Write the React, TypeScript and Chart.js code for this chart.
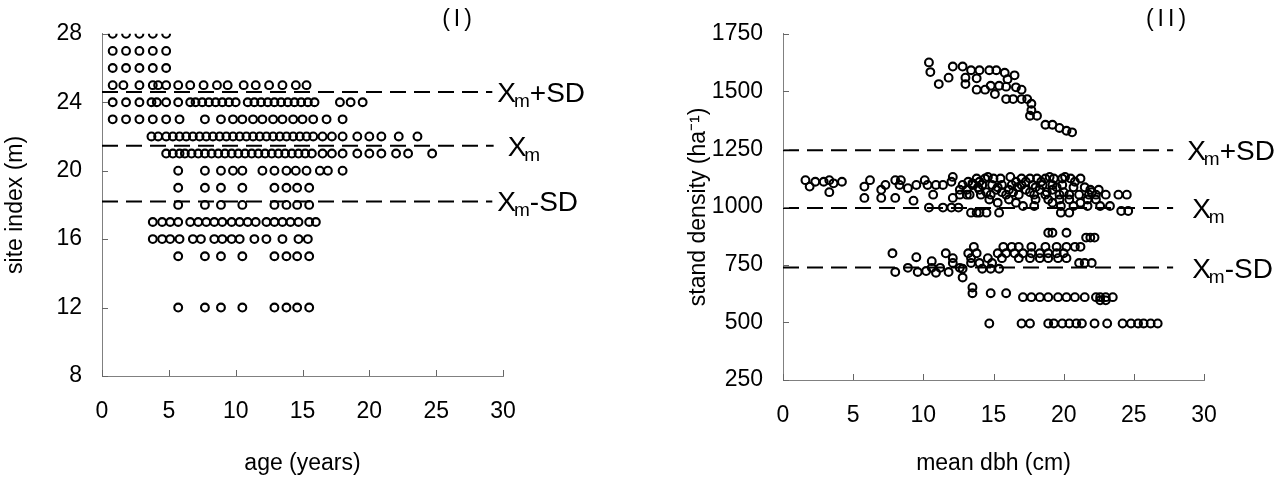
import React, { useEffect, useRef } from "react";
import { Chart, registerables } from "chart.js";

Chart.register(...registerables);

const FONT = "'Liberation Sans', Arial, sans-serif";

// ---------- Panel (I): site index vs age ----------
const siteIndexRows = [28, 27, 26, 25, 24, 23, 22, 21, 20, 19, 18, 17, 16, 15, 12];
const agesSI28 = [0.8, 1.8, 2.8, 3.8, 4.8];
const agesSI27 = [0.8, 1.8, 2.8, 3.8, 4.8];
const agesSI26 = [0.8, 1.8, 2.8, 3.8, 4.8];
const agesSI25 = [0.8, 1.6, 2.8, 3.8, 4.2, 4.8, 5.7, 6.6, 7.6, 8.6, 9.4, 10.6, 11.5, 12.5, 13.5, 14.5, 15.3];
const agesSI24 = [0.8, 1.8, 2.8, 3.7, 4.1, 4.8, 5.7, 6.6, 7.0, 7.5, 8.0, 8.5, 9.0, 9.5, 10.0, 10.9, 11.4, 11.9, 12.4, 12.9, 13.4, 13.9, 14.4, 14.9, 15.4, 15.9, 17.8, 18.6, 19.5];
const agesSI23 = [0.8, 1.8, 2.8, 3.8, 4.8, 5.8, 7.7, 8.9, 9.8, 10.5, 11.3, 12.0, 12.8, 13.5, 14.3, 15.0, 15.8, 16.8, 18.0];
const agesSI22 = [3.7, 4.2, 4.8, 5.3, 5.8, 6.3, 6.8, 7.3, 7.8, 8.3, 8.8, 9.3, 9.8, 10.3, 10.8, 11.3, 11.8, 12.3, 12.8, 13.3, 13.8, 14.3, 14.8, 15.3, 15.8, 16.5, 17.2, 18.0, 19.1, 20.0, 20.9, 22.2, 23.6];
const agesSI21 = [4.8, 5.3, 5.8, 6.2, 6.7, 7.2, 7.7, 8.2, 8.7, 9.2, 9.7, 10.2, 10.7, 11.2, 11.7, 12.2, 12.7, 13.2, 13.7, 14.2, 14.7, 15.2, 15.7, 16.5, 17.2, 18.0, 19.1, 20.0, 20.9, 22.0, 22.9, 24.7];
const agesSI20 = [5.7, 7.7, 8.9, 9.8, 10.5, 12.0, 12.9, 13.8, 14.5, 15.3, 16.3, 16.9, 18.0];
const agesSI19 = [5.7, 7.7, 8.9, 10.5, 12.9, 13.8, 14.6, 15.5];
const agesSI18 = [5.7, 7.7, 8.9, 10.5, 12.9, 13.8, 14.6, 15.5];
const agesSI17 = [3.8, 4.5, 5.1, 5.7, 6.6, 7.2, 7.8, 8.4, 9.0, 9.7, 10.3, 10.9, 11.5, 12.3, 12.9, 13.5, 14.1, 14.7, 15.5, 16.0];
const agesSI16 = [3.8, 4.5, 5.1, 5.8, 6.8, 7.4, 8.4, 9.0, 9.7, 10.3, 11.4, 12.3, 13.5, 14.7, 15.4];
const agesSI15 = [5.7, 7.7, 8.9, 10.5, 12.9, 13.8, 14.6, 15.5];
const agesSI12 = [5.7, 7.7, 8.9, 10.5, 12.9, 13.8, 14.6, 15.5];
const agesByRow = [agesSI28, agesSI27, agesSI26, agesSI25, agesSI24, agesSI23, agesSI22, agesSI21, agesSI20, agesSI19, agesSI18, agesSI17, agesSI16, agesSI15, agesSI12];

const siteRefValues = [24.6, 21.45, 18.2];
const siteRefEnds = [29.2, 29.3, 29.2];
const refSuffixes = ["+SD", "", "-SD"];
const siteTicks = [8, 12, 16, 20, 24, 28];
const ageTicks = [0, 5, 10, 15, 20, 25, 30];

// ---------- Panel (II): stand density vs mean dbh ----------
const highDensityPts: [number, number][] = [
  [10.4, 1626], [10.5, 1584], [11.1, 1532], [11.8, 1560], [12.1, 1608], [12.8, 1608], [13.0, 1560], [13.0, 1532],
  [13.4, 1592], [14.0, 1592], [13.8, 1557], [13.8, 1508], [14.4, 1508], [14.7, 1592], [15.2, 1592], [14.8, 1525],
  [15.1, 1489], [15.4, 1525], [15.8, 1581], [16.0, 1553], [15.9, 1521], [16.5, 1570], [16.6, 1518], [17.0, 1508],
  [15.9, 1467], [16.4, 1467], [17.0, 1467], [17.4, 1467], [17.7, 1447], [17.7, 1419], [17.6, 1395], [18.1, 1395],
  [18.7, 1356], [19.2, 1356], [19.7, 1342], [20.2, 1330], [20.6, 1323],
];
const midDensityLeftPts: [number, number][] = [
  [1.6, 1116], [1.9, 1088], [2.3, 1109], [2.9, 1109], [3.3, 1116], [3.3, 1064], [3.6, 1102], [4.2, 1109],
  [5.8, 1088], [6.2, 1116], [5.8, 1039], [7.0, 1074], [7.0, 1039], [7.3, 1095], [8.0, 1116], [8.0, 1039],
  [8.3, 1095], [8.4, 1116], [8.9, 1081], [9.3, 1027], [9.5, 1095], [10.1, 1116], [10.3, 1095], [10.7, 1053],
  [10.9, 1095], [11.4, 1095], [12.0, 1109], [12.1, 1130], [12.1, 1039], [12.6, 1074], [13.1, 1053], [13.5, 1102],
  [10.4, 997], [11.4, 997], [12.0, 997], [12.5, 997], [13.4, 975], [13.8, 975],
];
const dbhAt1130 = [14.6, 16.2, 19.0, 20.1];
const dbhAt1123 = [13.8, 14.4, 15.0, 15.5, 17.0, 17.6, 18.1, 18.7, 19.3, 19.9, 20.5, 21.2];
const dbhAt1109 = [13.2, 14.0, 16.6, 17.3, 18.4, 20.8];
const dbhAt1095 = [12.8, 13.5, 14.2, 14.9, 15.6, 16.3, 17.0, 17.8, 18.5, 19.2, 19.9];
const dbhAt1085 = [13.9, 15.3, 16.7, 18.0, 19.5, 20.7, 21.5];
const dbhAt1074 = [13.1, 14.0, 15.2, 16.1, 17.3, 18.3, 19.2, 21.9, 22.5];
const dbhAt1064 = [14.5, 15.6, 16.4, 17.6, 18.8, 20.0, 22.0];
const dbhAt1053 = [12.6, 13.3, 14.1, 14.8, 15.9, 16.8, 17.9, 18.7, 19.7, 20.4, 21.1, 21.8, 22.3, 23.0, 23.9, 24.5];
const dbhAt1032 = [14.7, 16.1, 18.0, 18.9, 19.7, 20.4, 21.7, 22.3];
const dbhAt1018 = [15.3, 16.6, 19.2, 21.2];
const dbhAt1004 = [17.1, 17.9, 19.8, 20.7, 21.7, 22.6, 23.3];
const dbhAt982 = [24.1, 24.6];
const dbhAt975 = [14.0, 14.5, 15.4, 19.8, 20.4];
const dbhAt888 = [18.9, 19.2, 20.2];
const dbhAt867 = [21.6, 21.9, 22.2];
const lowDensityLeftPts: [number, number][] = [
  [7.8, 799], [8.0, 718], [8.9, 736], [9.5, 782], [9.6, 718], [10.2, 722], [10.6, 765], [10.6, 736],
  [11.2, 736], [11.6, 799], [12.1, 778], [12.1, 757], [12.6, 736], [12.8, 694], [13.2, 799], [13.4, 757],
  [13.6, 827], [13.5, 651], [11.8, 718], [10.9, 715],
];
const dbhAt827 = [15.7, 16.3, 16.8, 17.7, 18.7, 19.5, 20.2, 20.8, 21.2];
const dbhAt799 = [13.8, 15.3, 15.9, 16.5, 17.1, 17.7, 18.3, 18.9, 19.5, 20.0];
const dbhAt778 = [13.4, 14.6, 15.6, 16.8, 17.6, 18.3, 18.9, 19.6, 20.2];
const dbhAt757 = [14.0, 14.9, 21.1, 21.5, 22.0];
const dbhAt732 = [12.8, 14.2, 14.8, 15.4];
const dbhAt626 = [13.5, 14.8, 15.9];
const dbhAt609 = [17.1, 17.7, 18.3, 18.9, 19.6, 20.2, 20.8, 21.5, 22.3, 22.6, 23.0, 23.5];
const dbhAt595 = [22.6, 23.0];
const dbhAt495 = [14.7, 17.0, 17.6, 18.9, 19.3, 19.9, 20.4, 20.9, 21.3, 22.2, 23.1, 24.2, 24.8, 25.3, 25.7, 26.2, 26.7];
const densityRows: [number, number[]][] = [
  [1130, dbhAt1130], [1123, dbhAt1123], [1109, dbhAt1109], [1095, dbhAt1095], [1085, dbhAt1085],
  [1074, dbhAt1074], [1064, dbhAt1064], [1053, dbhAt1053], [1032, dbhAt1032], [1018, dbhAt1018],
  [1004, dbhAt1004], [982, dbhAt982], [975, dbhAt975], [888, dbhAt888], [867, dbhAt867],
  [827, dbhAt827], [799, dbhAt799], [778, dbhAt778], [757, dbhAt757], [732, dbhAt732],
  [626, dbhAt626], [609, dbhAt609], [595, dbhAt595], [495, dbhAt495],
];

const densityRefValues = [1245, 995, 737];
const densityRefEnds = [27.8, 27.8, 27.8];
const densityTicks = [250, 500, 750, 1000, 1250, 1500, 1750];
const dbhTicks = [0, 5, 10, 15, 20, 25, 30];

// ---------- helpers ----------
function makeDecor(id: string, title: string, titleX: number, titleY: number, refs: number[], ends: number[], gaps: number[]) {
  return {
    id,
    afterDatasetsDraw(chart: any) {
      const { ctx, chartArea } = chart;
      const xs = chart.scales.x;
      const ys = chart.scales.y;
      ctx.save();
      ctx.strokeStyle = "#666";
      ctx.lineWidth = 1;
      ys.ticks.forEach((t: any) => {
        const y = Math.round(ys.getPixelForValue(t.value)) + 0.5;
        ctx.beginPath();
        ctx.moveTo(chartArea.left, y);
        ctx.lineTo(chartArea.left + 6, y);
        ctx.stroke();
      });
      xs.ticks.forEach((t: any) => {
        const x = Math.round(xs.getPixelForValue(t.value)) + 0.5;
        ctx.beginPath();
        ctx.moveTo(x, chartArea.bottom);
        ctx.lineTo(x, chartArea.bottom - 6);
        ctx.stroke();
      });
      ctx.fillStyle = "#000";
      ctx.textAlign = "left";
      ctx.textBaseline = "alphabetic";
      refs.forEach((v, i) => {
        const x = xs.getPixelForValue(ends[i]) + gaps[i];
        const base = ys.getPixelForValue(v) + 10;
        ctx.font = `28px ${FONT}`;
        ctx.fillText("X", x, base);
        const wX = ctx.measureText("X").width;
        ctx.font = `19px ${FONT}`;
        ctx.fillText("m", x + wX - 2, base + 5);
        const wm = ctx.measureText("m").width;
        if (refSuffixes[i]) {
          ctx.font = `28px ${FONT}`;
          ctx.fillText(refSuffixes[i], x + wX - 2 + wm, base);
        }
      });
      ctx.font = `23px ${FONT}`;
      (ctx as any).letterSpacing = "4px";
      ctx.textAlign = "center";
      ctx.textBaseline = "middle";
      ctx.fillText(title, titleX, titleY);
      ctx.restore();
    },
  };
}

function buildConfig(p: {
  points: { x: number; y: number }[];
  refs: number[];
  ends: number[];
  xMin: number; xMax: number; xStep: number;
  yMin: number; yMax: number; yStep: number;
  xTitle: string; yTitle: string;
  yWidth: number; xHeight: number;
  padTop: number; padRight: number;
  yTitlePad: number;
  decor: any;
}) {
  const datasets: any[] = [
    {
      type: "scatter",
      data: p.points,
      pointRadius: 3.9,
      pointBorderWidth: 2.1,
      pointBorderColor: "#000",
      pointBackgroundColor: "rgba(0,0,0,0)",
      pointHoverRadius: 3.9,
    },
  ];
  p.refs.forEach((v, i) => {
    datasets.push({
      type: "line",
      data: [{ x: p.xMin, y: v }, { x: p.ends[i], y: v }],
      borderColor: "#000",
      borderWidth: 2,
      borderDash: [16, 8],
      pointRadius: 0,
      fill: false,
    });
  });
  const fmt = (v: any) => String(v);
  return {
    type: "scatter",
    data: { datasets },
    options: {
      animation: false,
      responsive: true,
      maintainAspectRatio: false,
      events: [],
      layout: { padding: { top: p.padTop, right: p.padRight, bottom: 0, left: 0 } },
      plugins: { legend: { display: false }, tooltip: { enabled: false } },
      scales: {
        x: {
          type: "linear",
          min: p.xMin,
          max: p.xMax,
          afterFit: (s: any) => { s.height = p.xHeight; },
          ticks: { stepSize: p.xStep, color: "#000", font: { family: FONT, size: 23 }, padding: 22, maxRotation: 0, callback: fmt },
          grid: { display: false, drawTicks: false },
          border: { display: true, color: "#808080", width: 1 },
          title: { display: true, text: p.xTitle, color: "#000", font: { family: FONT, size: 23 }, padding: { top: 0, bottom: 0 } },
        },
        y: {
          type: "linear",
          min: p.yMin,
          max: p.yMax,
          afterFit: (s: any) => { s.width = p.yWidth; },
          ticks: { stepSize: p.yStep, color: "#000", font: { family: FONT, size: 23 }, padding: 20, callback: fmt },
          grid: { display: false, drawTicks: false },
          border: { display: true, color: "#808080", width: 1 },
          title: { display: true, text: p.yTitle, color: "#000", font: { family: FONT, size: 23 }, padding: { top: p.yTitlePad, bottom: 0 } },
        },
      },
    },
    plugins: [p.decor],
  } as any;
}

export default function App() {
  const leftRef = useRef<HTMLCanvasElement>(null);
  const rightRef = useRef<HTMLCanvasElement>(null);

  useEffect(() => {
    document.body.style.margin = "0";
    const leftPoints: { x: number; y: number }[] = [];
    siteIndexRows.forEach((si, i) => agesByRow[i].forEach((a) => leftPoints.push({ x: a, y: si })));
    const rightPoints: { x: number; y: number }[] = [];
    highDensityPts.forEach(([x, y]) => rightPoints.push({ x, y }));
    midDensityLeftPts.forEach(([x, y]) => rightPoints.push({ x, y }));
    lowDensityLeftPts.forEach(([x, y]) => rightPoints.push({ x, y }));
    densityRows.forEach(([d, xs]) => xs.forEach((x) => rightPoints.push({ x, y: d })));

    const left = new Chart(
      leftRef.current!,
      buildConfig({
        points: leftPoints,
        refs: siteRefValues,
        ends: siteRefEnds,
        xMin: ageTicks[0], xMax: ageTicks[ageTicks.length - 1], xStep: 5,
        yMin: siteTicks[0], yMax: siteTicks[siteTicks.length - 1], yStep: 4,
        xTitle: "age (years)",
        yTitle: "site index (m)",
        yWidth: 102, xHeight: 101,
        padTop: 31, padRight: 137,
        yTitlePad: 2,
        decor: makeDecor("decorL", "(I)", 459, 20, siteRefValues, siteRefEnds, [5, 14, 5]),
      })
    );
    const right = new Chart(
      rightRef.current!,
      buildConfig({
        points: rightPoints,
        refs: densityRefValues,
        ends: densityRefEnds,
        xMin: dbhTicks[0], xMax: dbhTicks[dbhTicks.length - 1], xStep: 5,
        yMin: densityTicks[0], yMax: densityTicks[densityTicks.length - 1], yStep: 250,
        xTitle: "mean dbh (cm)",
        yTitle: "stand density (ha⁻¹)",
        yWidth: 143, xHeight: 97,
        padTop: 25, padRight: 78,
        yTitlePad: 45,
        decor: makeDecor("decorR", "(II)", 528, 20, densityRefValues, densityRefEnds, [14, 19, 19]),
      })
    );
    return () => {
      left.destroy();
      right.destroy();
    };
  }, []);

  return (
    <div style={{ position: "fixed", left: 0, top: 0, width: 1282, height: 477, background: "#fff" }}>
      <div style={{ position: "absolute", left: 0, top: 0, width: 640, height: 477 }}>
        <canvas ref={leftRef} />
      </div>
      <div style={{ position: "absolute", left: 640, top: 0, width: 642, height: 477 }}>
        <canvas ref={rightRef} />
      </div>
    </div>
  );
}
